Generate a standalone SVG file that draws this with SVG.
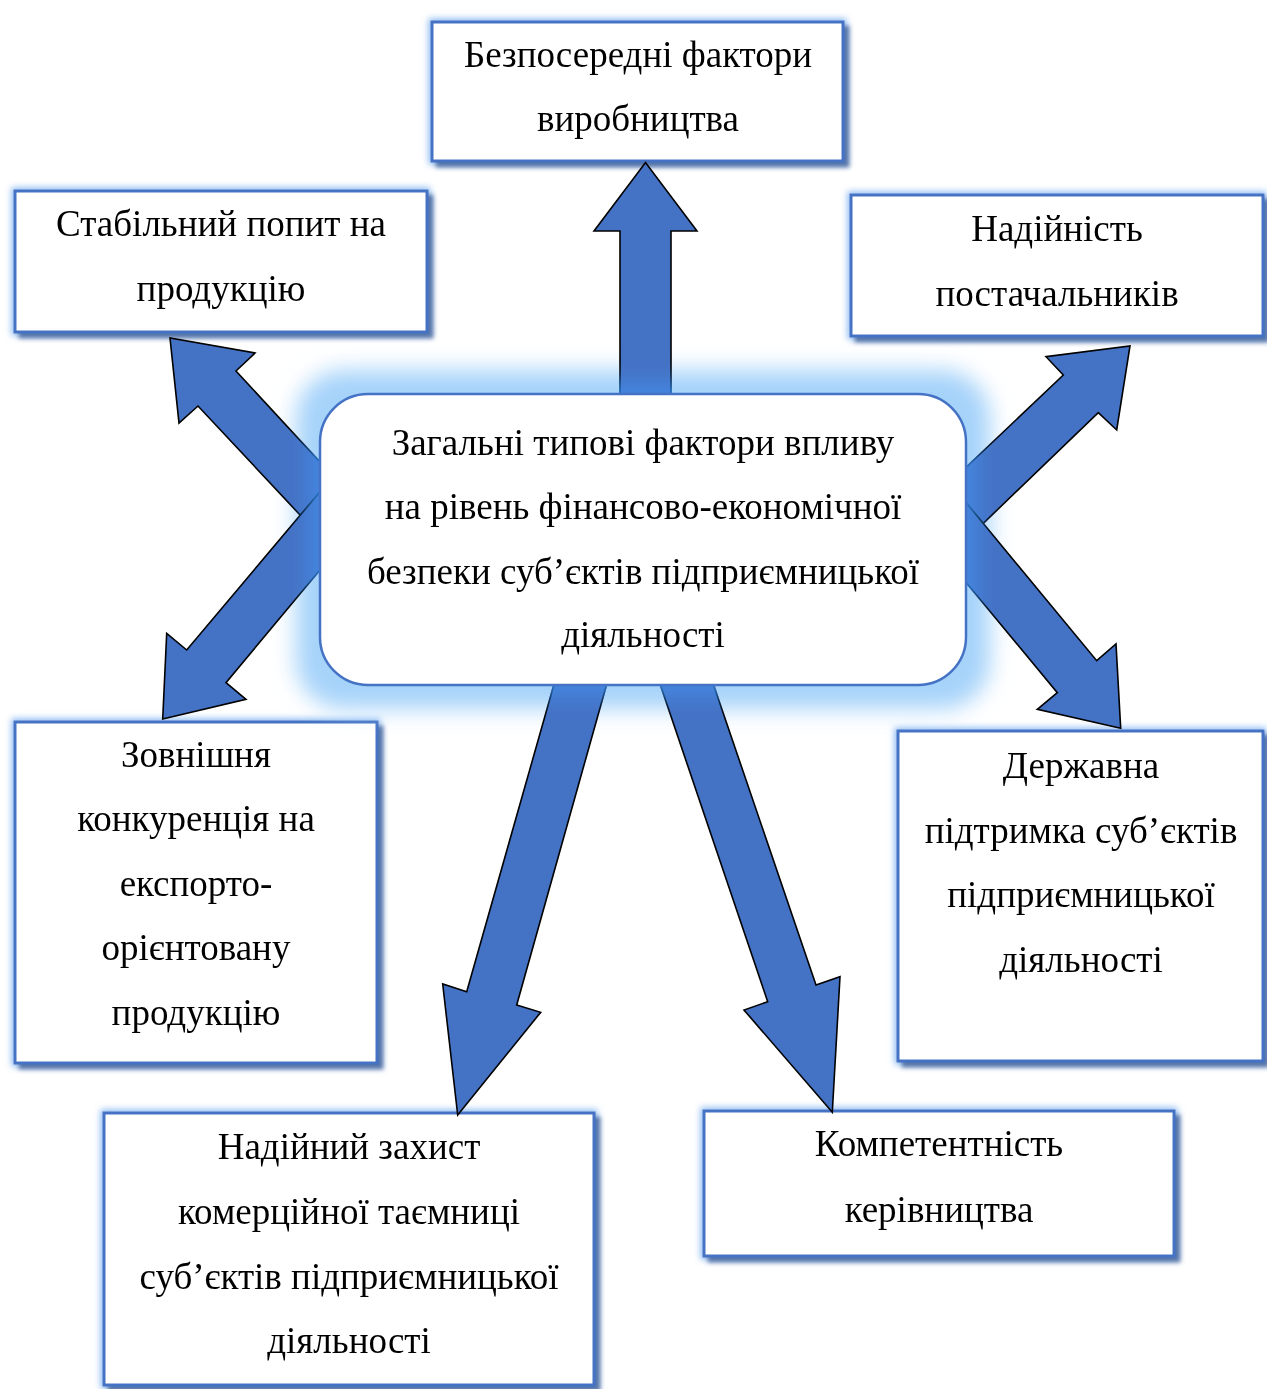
<svg xmlns="http://www.w3.org/2000/svg" width="1267" height="1389" viewBox="0 0 1267 1389">
<defs>
<style>
.box{fill:#fff;stroke:#4472C4;stroke-width:3;filter:url(#boxfx)}
.cbox{fill:#fff;stroke:#4472C4;stroke-width:2.5}
.arr{fill:#4472C4;stroke:#000;stroke-width:1.6;stroke-linejoin:miter}
text{font-family:"Liberation Serif","Times New Roman",serif;font-size:37px;fill:#000;text-anchor:middle}
</style>
<filter id="boxfx" x="-10%" y="-15%" width="125%" height="135%">
<feGaussianBlur in="SourceAlpha" stdDeviation="2" result="b"/>
<feOffset in="b" dx="5" dy="5" result="o"/>
<feFlood flood-color="#3F5F99" flood-opacity="0.85"/>
<feComposite in2="o" operator="in" result="shadow"/>
<feMorphology in="SourceAlpha" operator="dilate" radius="2" result="d"/>
<feGaussianBlur in="d" stdDeviation="3" result="db"/>
<feFlood flood-color="#8DBBF2"/>
<feComposite in2="db" operator="in" result="glow"/>
<feMerge><feMergeNode in="glow"/><feMergeNode in="shadow"/><feMergeNode in="SourceGraphic"/></feMerge>
</filter>
<filter id="cglow" x="-20%" y="-40%" width="140%" height="180%">
<feMorphology in="SourceAlpha" operator="dilate" radius="24" result="d"/>
<feGaussianBlur in="d" stdDeviation="11" result="db"/>
<feFlood flood-color="#A6D3FA"/>
<feComposite in2="db" operator="in"/>
</filter>
<filter id="cblur" x="-20%" y="-40%" width="140%" height="180%">
<feMorphology operator="dilate" radius="12"/>
<feGaussianBlur stdDeviation="11"/>
</filter>
</defs>
<rect width="1267" height="1389" fill="#fff"/>

<g id="node-top">
<rect class="box" x="432" y="22" width="411" height="139"/>
<text x="638" y="67">Безпосередні фактори</text>
<text x="638" y="131">виробництва</text>
</g>
<g id="node-topleft">
<rect class="box" x="15" y="191" width="412" height="141"/>
<text x="221" y="236">Стабільний попит на</text>
<text x="221" y="301">продукцію</text>
</g>
<g id="node-topright">
<rect class="box" x="851" y="195" width="412" height="141"/>
<text x="1057" y="241">Надійність</text>
<text x="1057" y="306">постачальників</text>
</g>
<g id="node-left">
<rect class="box" x="15" y="722" width="362" height="341"/>
<text x="196" y="767">Зовнішня</text>
<text x="196" y="831">конкуренція на</text>
<text x="196" y="896">експорто-</text>
<text x="196" y="960">орієнтовану</text>
<text x="196" y="1025">продукцію</text>
</g>
<g id="node-right">
<rect class="box" x="898" y="731" width="365" height="330"/>
<text x="1081" y="778">Державна</text>
<text x="1081" y="843">підтримка суб’єктів</text>
<text x="1081" y="907">підприємницької</text>
<text x="1081" y="972">діяльності</text>
</g>
<g id="node-bottomleft">
<rect class="box" x="104" y="1113" width="490" height="272"/>
<text x="349" y="1159">Надійний захист</text>
<text x="349" y="1224">комерційної таємниці</text>
<text x="349" y="1289">суб’єктів підприємницької</text>
<text x="349" y="1353">діяльності</text>
</g>
<g id="node-bottomright">
<rect class="box" x="704" y="1111" width="470" height="145"/>
<text x="939" y="1156">Компетентність</text>
<text x="939" y="1222">керівництва</text>
</g>

<g id="center-glow">
<rect x="320" y="394" width="646" height="291" rx="48" fill="#A6D3FA" filter="url(#cglow)"/>
</g>

<g id="connectors">
<polygon class="arr" points="620,420 620,231 594,231 645.5,162.5 697,231 671,231 671,420"/>
<polygon class="arr" points="345,489 236,371 255,353 170,338 179,423 198,406 345,563"/>
<polygon class="arr" points="345,462 186.7,650 166.7,633.3 162.7,719 246,699.3 226,682.7 345,540"/>
<polygon class="arr" points="940,492 1063.3,375 1046,356.7 1130,346 1116.7,430 1098.3,412.7 940,565"/>
<polygon class="arr" points="940,471 1096.7,660.7 1116,644 1120.7,728.3 1037.3,709.3 1057.3,692.7 940,551"/>
<polygon class="arr" points="560.9,660 466.7,991.7 442.7,984 457.7,1115 540.7,1012.3 516.7,1005 613.5,660"/>
<polygon class="arr" points="651.9,660 767.7,1001.7 744,1010 832.3,1112.3 840,976.7 816,985 705.1,660"/>
</g>

<g id="center-light" style="mix-blend-mode:lighten">
<rect x="320" y="394" width="646" height="291" rx="48" fill="#3386E0" filter="url(#cblur)"/>
</g>

<g id="node-center">
<rect class="cbox" x="320" y="394" width="646" height="291" rx="48"/>
<text x="643" y="455">Загальні типові фактори впливу</text>
<text x="643" y="519">на рівень фінансово-економічної</text>
<text x="643" y="584">безпеки суб’єктів підприємницької</text>
<text x="643" y="647">діяльності</text>
</g>
</svg>
